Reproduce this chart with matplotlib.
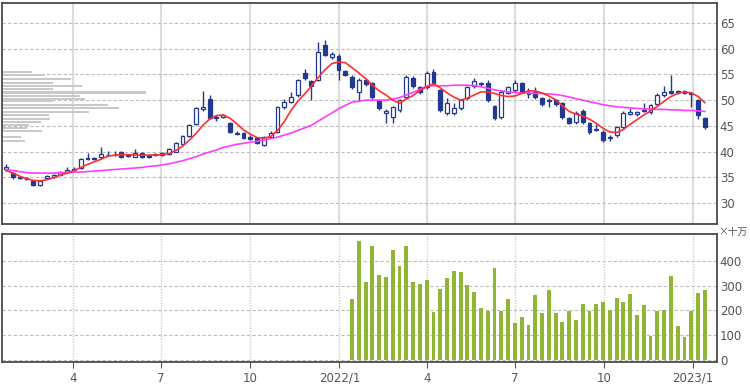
import numpy as np
import pandas as pd
import matplotlib
matplotlib.use("Agg")
import matplotlib.pyplot as plt
import matplotlib.dates as mdates

# weekly candles, 2021/1 - 2023/1
dates = pd.date_range("2021-01-22", periods=104, freq="7D")

opens = [36.6, 35.9, 35.1, 34.8, 34.3, 33.4, 34.8, 35.0, 35.5, 36.1,
         36.4, 36.7, 38.8, 38.6, 38.9, 39.3, 39.3, 40.0, 39.2, 39.0,
         39.7, 39.4, 39.3, 39.4, 39.5, 40.0, 41.5, 43.0, 45.3, 48.3,
         50.2, 46.5, 46.8, 45.5, 43.4, 43.6, 42.9, 42.6, 41.2, 42.8,
         43.8, 48.6, 49.6, 51.0, 55.3, 53.7, 53.9, 60.7, 58.4, 58.6,
         55.6, 54.5, 51.5, 53.9, 53.3, 49.8, 47.5, 46.7, 48.0, 50.6,
         54.3, 52.5, 52.5, 55.4, 51.9, 47.5, 47.5, 48.4, 50.4, 52.7,
         53.1, 53.3, 48.8, 46.7, 51.4, 51.9, 53.3, 51.4, 51.6, 50.4,
         49.8, 50.0, 49.4, 46.5, 45.7, 47.9, 45.5, 44.3, 43.8, 42.6,
         43.2, 44.7, 47.4, 47.3, 47.9, 47.7, 49.2, 51.0, 51.8, 51.7,
         51.7, 51.3, 50.0, 46.5]
closes = [36.9, 35.0, 34.8, 34.6, 33.4, 34.3, 35.2, 35.5, 36.0, 36.4,
          36.6, 38.5, 38.6, 38.8, 39.5, 39.4, 39.4, 39.0, 39.4, 39.8,
          39.0, 39.0, 39.6, 39.7, 40.4, 41.7, 43.0, 45.1, 48.4, 48.6,
          46.5, 46.8, 47.1, 43.8, 43.7, 42.6, 42.5, 41.6, 42.8, 43.6,
          48.6, 49.6, 50.6, 53.9, 54.3, 52.7, 59.3, 58.8, 59.0, 55.8,
          54.9, 52.5, 54.0, 53.1, 50.6, 48.4, 47.9, 48.6, 50.0, 54.5,
          52.7, 51.5, 55.3, 53.3, 48.0, 49.4, 48.4, 50.0, 52.5, 53.7,
          53.3, 50.0, 46.5, 51.6, 52.5, 53.3, 51.6, 51.2, 50.6, 49.2,
          50.1, 49.2, 46.7, 45.6, 47.5, 45.7, 43.8, 44.1, 42.2, 42.9,
          44.7, 47.5, 47.6, 47.6, 48.1, 49.0, 51.0, 51.6, 51.4, 51.5,
          51.4, 51.1, 47.1, 44.7]
highs = [37.6, 36.1, 35.3, 35.0, 34.5, 34.5, 35.4, 35.7, 36.2, 36.9,
         36.9, 38.7, 39.8, 39.0, 40.9, 40.2, 40.2, 40.2, 39.6, 40.4,
         39.9, 39.6, 39.8, 39.9, 40.6, 41.9, 43.2, 45.3, 48.6, 51.8,
         51.0, 47.1, 47.4, 45.7, 44.0, 43.8, 43.2, 42.8, 43.0, 43.9,
         48.8, 50.2, 51.5, 54.2, 56.0, 53.9, 61.3, 61.7, 59.4, 58.9,
         55.9, 54.8, 54.3, 54.2, 53.6, 50.1, 48.2, 48.9, 50.3, 54.8,
         54.6, 52.8, 55.6, 56.0, 52.2, 50.5, 49.5, 50.3, 52.8, 54.4,
         53.6, 54.0, 49.1, 51.9, 52.8, 54.0, 53.6, 52.4, 52.5, 50.7,
         50.4, 50.3, 49.7, 46.8, 47.8, 48.2, 45.8, 45.3, 44.1, 43.2,
         45.0, 47.8, 48.5, 47.9, 49.5, 49.3, 51.3, 52.8, 54.9, 52.0,
         52.0, 51.6, 50.3, 46.8]
lows = [36.2, 34.7, 34.6, 34.4, 33.3, 33.2, 34.6, 34.9, 35.4, 36.0,
        36.2, 36.6, 38.4, 38.4, 38.5, 39.1, 39.1, 38.8, 39.0, 38.9,
        38.8, 38.8, 39.1, 39.2, 39.4, 39.9, 41.3, 42.8, 45.1, 47.8,
        46.3, 46.0, 46.6, 43.6, 43.2, 42.4, 42.3, 41.4, 41.0, 42.6,
        43.6, 48.3, 49.4, 50.7, 54.0, 50.0, 53.7, 58.5, 58.0, 54.0,
        54.6, 52.2, 49.8, 52.8, 50.3, 48.1, 45.6, 45.5, 47.7, 50.3,
        52.4, 51.2, 52.2, 53.0, 47.7, 47.2, 47.2, 48.1, 50.1, 52.4,
        52.8, 49.7, 46.2, 46.4, 51.1, 51.6, 51.3, 50.5, 50.3, 48.9,
        48.6, 48.9, 46.4, 45.3, 45.4, 45.4, 43.5, 43.9, 41.9, 42.0,
        42.9, 44.4, 47.1, 47.0, 47.6, 47.4, 48.9, 50.7, 51.1, 51.2,
        51.1, 48.6, 46.4, 44.4]

# moving averages
ma_short = [36.3, 35.8, 35.2, 34.7, 34.4, 34.3, 34.5, 34.9, 35.4, 35.8,
            36.3, 36.9, 37.5, 38.0, 38.5, 39.1, 39.3, 39.4, 39.4, 39.3,
            39.3, 39.3, 39.3, 39.4, 39.6, 40.2, 41.0, 42.2, 43.5, 45.1,
            46.3, 47.0, 47.1, 46.5, 45.4, 44.2, 43.4, 42.7, 42.6, 42.9,
            44.1, 45.8, 48.0, 49.8, 51.2, 52.7, 54.4, 55.9, 57.1, 57.4,
            57.3, 56.3, 55.3, 54.2, 52.9, 51.8, 51.0, 50.0, 49.4, 50.2,
            50.9, 51.9, 52.6, 53.2, 52.4, 51.4, 50.6, 50.0, 50.4, 51.0,
            51.6, 51.6, 51.3, 50.9, 50.7, 50.8, 51.3, 51.8, 51.8, 51.4,
            50.8, 50.1, 48.9, 47.8, 47.3, 46.9, 46.3, 45.5, 44.5, 43.8,
            43.7, 44.3, 45.3, 46.2, 47.1, 47.9, 48.8, 49.8, 50.7, 51.3,
            51.6, 51.4, 50.7, 49.5]
ma_long = [36.5, 36.3, 36.1, 35.9, 35.8, 35.8, 35.8, 35.8, 35.9, 35.9,
           36.0, 36.0, 36.1, 36.2, 36.3, 36.4, 36.5, 36.6, 36.7, 36.8,
           36.9, 37.1, 37.2, 37.4, 37.6, 37.9, 38.2, 38.6, 39.0, 39.5,
           39.9, 40.3, 40.8, 41.1, 41.4, 41.6, 41.8, 42.0, 42.2, 42.5,
           42.8, 43.2, 43.6, 44.1, 44.6, 45.1, 45.9, 46.7, 47.5, 48.3,
           49.0, 49.6, 49.8, 50.0, 50.0, 50.0, 50.0, 50.2, 50.5, 51.0,
           51.5, 52.1, 52.7, 52.8, 52.8, 52.8, 52.9, 52.9, 52.9, 52.8,
           52.6, 52.3, 52.0, 51.8, 51.6, 51.5, 51.4, 51.4, 51.3, 51.3,
           51.2, 51.1, 50.9, 50.6, 50.3, 50.0, 49.7, 49.4, 49.1, 48.9,
           48.7, 48.6, 48.5, 48.4, 48.3, 48.3, 48.2, 48.2, 48.1, 48.1,
           48.0, 48.0, 47.9, 47.8]

# volume (x 100k shares), only from 2022/1
vol_start = 51
volume = [245, 481, 316, 461, 342, 335, 443, 380, 461, 315, 308, 321, 194,
          285, 332, 359, 355, 301, 275, 210, 199, 369, 199, 244, 149, 174,
          142, 264, 190, 281, 190, 152, 197, 163, 224, 199, 226, 233, 201,
          251, 233, 268, 183, 220, 98, 197, 203, 339, 138, 91, 197, 271, 282]

# price-by-volume profile on the left
prof_price = [55.4, 54.9, 54.1, 53.4, 52.8, 52.1, 51.5, 50.8, 50.3, 49.8,
              49.0, 48.4, 47.7, 47.1, 46.4, 45.8, 45.1, 44.6, 44.0, 42.9, 42.0]
prof_vol = [30, 43, 69, 51, 80, 51, 144, 78, 83, 51,
            106, 117, 87, 47, 48, 39, 27, 25, 40, 19, 23]

tick_dates = pd.to_datetime(["2021-04-01", "2021-07-01", "2021-10-01",
                             "2022-01-01", "2022-04-01", "2022-07-01",
                             "2022-10-01", "2023-01-01"])
tick_labels = ["4", "7", "10", "2022/1", "4", "7", "10", "2023/1"]

up_col = "#22398f"
frame_col = "#4a4a4a"
text_col = "#555555"

x = mdates.date2num(dates)
xt = mdates.date2num(tick_dates)
x0 = mdates.date2num(pd.Timestamp("2021-01-17 18:00"))
x1 = mdates.date2num(pd.Timestamp("2023-01-25 14:00"))

fig = plt.figure(figsize=(7.5, 3.88), dpi=100)
ax = fig.add_axes([2 / 750, 1 - 224 / 388, 715 / 750, 221 / 388])
axv = fig.add_axes([2 / 750, 1 - 362 / 388, 715 / 750, 128 / 388])

# ---- price panel
o = np.array(opens)
c = np.array(closes)
h = np.array(highs)
l = np.array(lows)
bw = 4.0

ax.barh(prof_price, np.array(prof_vol) / 0.969, left=x0, height=0.42,
        color="#c9c9c9", zorder=1)

ax.vlines(x, l, h, color=up_col, lw=1.0, zorder=3)
rising = c >= o
ax.bar(x[rising], (c - o)[rising], bottom=o[rising], width=bw,
       facecolor="white", edgecolor=up_col, linewidth=0.9, zorder=4)
ax.bar(x[~rising], (o - c)[~rising], bottom=c[~rising], width=bw,
       facecolor=up_col, edgecolor=up_col, linewidth=0.9, zorder=4)

ax.plot(x, ma_long, color="#ff3cff", lw=1.2, zorder=5)
ax.plot(x, ma_short, color="#ff3030", lw=1.2, zorder=5)

ax.set_ylim(25.9, 68.9)
ax.set_yticks(np.arange(30, 66, 5))

# ---- volume panel
xv = x[vol_start:vol_start + len(volume)]
axv.bar(xv, volume, width=bw, color="#8fb635", zorder=3)
axv.set_ylim(-8, 508)
axv.set_yticks(np.arange(0, 401, 100))

for a in (ax, axv):
    a.set_xlim(x0, x1)
    a.set_xticks(xt)
    a.yaxis.tick_right()
    a.tick_params(axis="y", length=0, pad=2, labelsize=8.5, labelcolor=text_col)
    a.grid(axis="y", color="#bdbdbd", linestyle=(0, (3, 2)), lw=0.8, zorder=0)
    for s in a.spines.values():
        s.set_color(frame_col)
        s.set_linewidth(1.3)
    a.set_axisbelow(True)

for t in xt:
    ax.axvline(t, color="#dcdcdc", lw=1.5, zorder=0)
    axv.axvline(t, color="#cfcfcf", lw=1.0, linestyle=(0, (1, 1)), zorder=0)

ax.tick_params(axis="x", length=0, labelbottom=False)
axv.set_xticklabels(tick_labels)
axv.tick_params(axis="x", length=4, color=text_col, pad=3,
                labelsize=8.5, labelcolor=text_col)

fig.text(748 / 750, 1 - 232 / 388, "×十万", fontsize=7, color=text_col,
         family=["Noto Sans CJK JP", "DejaVu Sans"], va="center", ha="right")

fig.savefig("out.png", dpi=100)
